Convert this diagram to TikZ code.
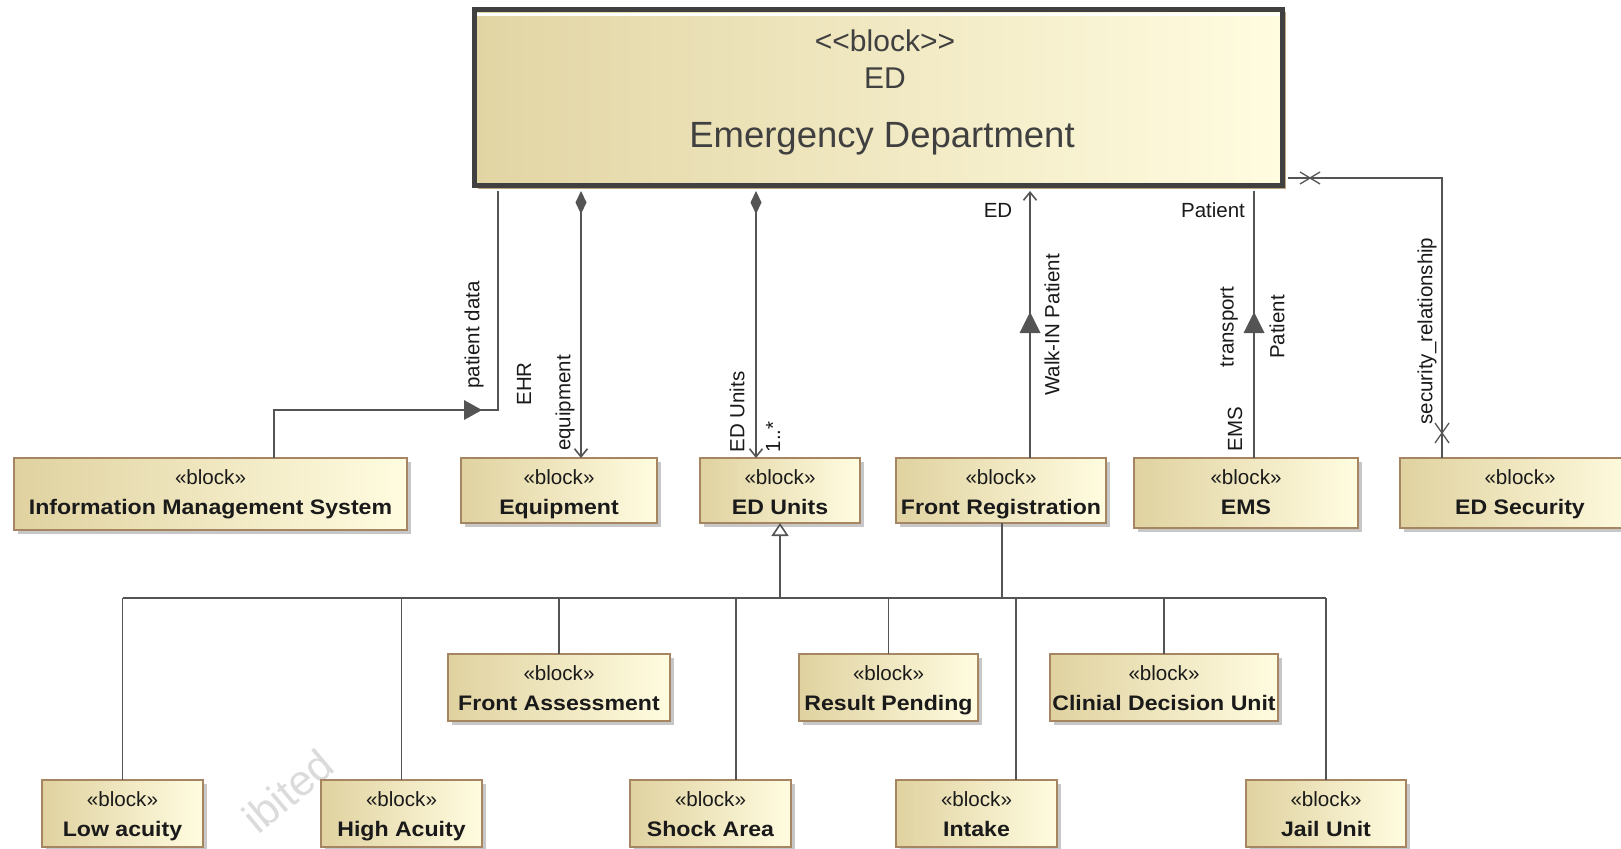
\documentclass[tikz,border=0pt]{standalone}
\usepackage{fontspec}
\setmainfont{Liberation Sans}
\newfontfamily\namefont{Liberation Sans}[FakeStretch=1.1]
\newfontfamily\rawfont{Liberation Sans}[Ligatures=TeXOff]
\usetikzlibrary{arrows.meta,shadows}

\definecolor{blockL}{RGB}{224,210,160}
\definecolor{blockR}{RGB}{255,252,224}
\definecolor{blockEdge}{RGB}{166,134,98}
\definecolor{edL}{RGB}{226,213,164}
\definecolor{edR}{RGB}{255,252,224}
\definecolor{edEdge}{RGB}{64,64,64}
\definecolor{edShadow}{RGB}{190,165,128}
\definecolor{wireCol}{RGB}{84,84,84}
\definecolor{ink}{RGB}{26,26,26}

\tikzset{
  blockbox/.style={draw=blockEdge, line width=1.5pt, left color=blockL, right color=blockR,
    inner sep=0pt, outer sep=0pt, anchor=north west,
    drop shadow={shadow xshift=4pt, shadow yshift=-4pt, fill=black, opacity=0.22}},
  edbox/.style={draw=edEdge, line width=5pt, left color=edL, right color=edR,
    inner sep=0pt, outer sep=5.5pt,
    drop shadow={shadow xshift=3pt, shadow yshift=-3pt, fill=edShadow, opacity=1}},
  stereotext/.style={anchor=base, inner sep=0pt, text=ink, font=\fontsize{20.6}{24}\selectfont},
  nametext/.style={anchor=base, inner sep=0pt, text=ink, font=\namefont\bfseries\fontsize{21}{25}\selectfont},
  edtext/.style={anchor=base, inner sep=0pt, text=edEdge},
  wire/.style={draw=wireCol, line width=1.6pt},
  hlabel/.style={inner sep=0pt, text=ink, font=\fontsize{20.5}{24}\selectfont},
  vlabel/.style={hlabel, rotate=90},
  barb/.tip={Straight Barb[length=8pt,width=13pt]},
  compo/.tip={Diamond[length=23pt,width=11pt]},
  generalize/.tip={Triangle[length=13pt,width=17pt,fill=white]},
  watermark/.style={anchor=base west, inner sep=0pt, rotate=40, text=black!14, font=\fontsize{43}{46}\selectfont}
}

% a block: name, x, y (top left), width, height, title
\newcommand\umlblock[6]{%
  \node[blockbox, minimum width=#4pt, minimum height=#5pt] (#1) at (#2,#3) {};
  \node[stereotext] (#1-st) at ([yshift=-26.5pt]#1.north) {«block»};
  \node[nametext] (#1-nm) at ([yshift=-56pt]#1.north) {#6};
}

\begin{document}
\begin{tikzpicture}[x=1pt,y=-1pt]
\useasboundingbox (0,0) rectangle (1621,848);

% faint watermark fragment
\node[watermark] (wm) at (258,836) {ibited};

% the Emergency Department block
\node[edbox, minimum width=808pt, minimum height=176pt] (ed) at (878.5,97.5) {};
\draw[white, line width=3pt] (477,14.5) -- (1280,14.5);
\node[edtext, font=\rawfont\fontsize{30}{36}\selectfont] (ed-st) at (885,52) {<<block>>};
\node[edtext, font=\fontsize{30}{36}\selectfont] (ed-nm) at (885,89) {ED};
\node[edtext, font=\fontsize{36.5}{42}\selectfont] (ed-title) at (882,147) {Emergency Department};

% first row of parts
\umlblock{ims}{14}{458}{393}{72}{Information Management System}
\umlblock{equip}{461}{458}{196}{65}{Equipment}
\umlblock{edu}{700}{458}{160}{65}{ED Units}
\umlblock{freg}{896}{458}{210}{65}{Front Registration}
\umlblock{ems}{1134}{458}{224}{70}{EMS}
\umlblock{sec}{1400}{458}{240}{70}{ED Security}

% ED units specialisations
\umlblock{fass}{448}{654}{222}{67}{Front Assessment}
\umlblock{rpend}{799}{654}{179}{67}{Result Pending}
\umlblock{cdu}{1050}{654}{228}{67}{Clinial Decision Unit}
\umlblock{low}{42}{780}{161}{67}{Low acuity}
\umlblock{high}{321}{780}{161}{67}{High Acuity}
\umlblock{shock}{630}{780}{161}{67}{Shock Area}
\umlblock{intake}{896}{780}{161}{67}{Intake}
\umlblock{jail}{1246}{780}{160}{67}{Jail Unit}

% item flow: Information Management System -> ED
\draw[wire] (274,0 |- ims.north) -- (274,410) -- (498,410) -- (498,0 |- ed.south);
\fill[wireCol] (482,410) -- (464,400) -- (464,420) -- cycle;

% compositions
\draw[wire, compo-barb] (581,0 |- ed.south) -- (581,0 |- equip.north);
\draw[wire, compo-barb] (756,0 |- ed.south) -- (756,0 |- edu.north);

% walk-in patients
\draw[wire, -barb] (1030,0 |- freg.north) -- (1030,0 |- ed.south);
\fill[wireCol] (1030,312) -- (1019.5,333) -- (1040.5,333) -- cycle;

% EMS transport
\draw[wire] (1254,0 |- ems.north) -- (1254,0 |- ed.south);
\fill[wireCol] (1254,312) -- (1243.5,333) -- (1264.5,333) -- cycle;

% security association, non-navigable ends
\draw[wire] (ed.east |- 0,178) -- (1442,178) -- (1442,0 |- sec.north);
\draw[wire, line width=1.3pt] (1300,172) -- (1320,184) (1300,184) -- (1320,172);
\draw[wire, line width=1.3pt] (1435,423) -- (1449,443) (1435,443) -- (1449,423);

% generalization tree
\coordinate (gj) at (780,598);
\draw[wire] (low.north |- gj) -- (jail.north |- gj);
\foreach \n in {low,high,fass,rpend,cdu,jail}
  \draw[wire] (\n.north) -- (\n.north |- gj);
\draw[wire] (736,0 |- shock.north) -- (736,0 |- gj);
\draw[wire] (1016,0 |- intake.north) -- (1016,0 |- gj);
\draw[wire] (1002,0 |- freg.south) -- (1002,0 |- gj);
\draw[wire, -generalize] (gj) -- (gj |- edu.south);

% connector labels
\node[vlabel] (l-pd) at (474,335) {patient data};
\node[vlabel] (l-ehr) at (524,384) {EHR};
\node[vlabel] (l-eq) at (565,403) {equipment};
\node[vlabel] (l-edu) at (737,412) {ED Units};
\node[vlabel, font=\rawfont\fontsize{20.5}{24}\selectfont] (l-mult) at (773,437) {1..*};
\node[hlabel] (l-ed) at (998,210) {ED};
\node[vlabel] (l-walk) at (1052,325) {Walk-IN Patient};
\node[hlabel] (l-pat) at (1213,210) {Patient};
\node[vlabel] (l-tr) at (1229,327) {transport};
\node[vlabel] (l-pat2) at (1277,327) {Patient};
\node[vlabel] (l-ems) at (1235,429) {EMS};
\node[vlabel] (l-sec) at (1427,331) {security\_relationship};
\end{tikzpicture}
\end{document}
